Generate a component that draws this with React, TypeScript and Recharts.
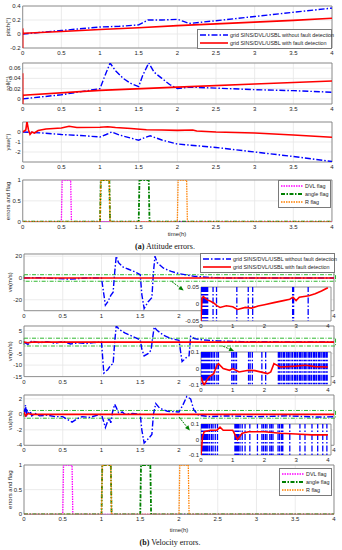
import React from "react"
import { LineChart, Line, XAxis, YAxis, CartesianGrid, ReferenceArea, ReferenceLine, Legend } from "recharts"

type Pt = [number, number]

const timeTicks = [0, 0.5, 1, 1.5, 2, 2.5, 3, 3.5, 4]
const insetTicks = [0, 1, 2, 3, 4]

// attitude errors (deg), [time h, value]
const pitchBlue: Pt[] = [[0, 0], [0.5, 0.05], [1, 0.1], [1.25, 0.11], [1.5, 0.13], [1.55, 0.16], [1.62, 0.2], [1.8, 0.2], [2, 0.21], [2.08, 0.18], [2.15, 0.15], [2.5, 0.19], [3, 0.25], [3.5, 0.31], [4, 0.37]]
const pitchRed: Pt[] = [[0, -0.2], [0, 0.08], [0.005, 0], [0.02, 0.01], [0.5, 0.035], [1, 0.065], [1.5, 0.09], [2, 0.12], [2.5, 0.145], [3, 0.17], [3.5, 0.195], [4, 0.225]]
const rollBlue: Pt[] = [[0, 0], [0.5, 0.008], [1, 0.02], [1.05, 0.04], [1.13, 0.07], [1.2, 0.055], [1.3, 0.04], [1.4, 0.03], [1.5, 0.024], [1.55, 0.045], [1.63, 0.07], [1.7, 0.052], [1.8, 0.04], [1.9, 0.028], [2, 0.02], [2.15, 0.023], [2.5, 0.021], [3, 0.018], [3.5, 0.016], [4, 0.013]]
const rollRed: Pt[] = [[0, 0.05], [0, -0.01], [0.005, 0.007], [1, 0.0165], [2, 0.023], [3, 0.029], [4, 0.035]]
const yawBlue: Pt[] = [[0, 0], [0.25, -0.1], [0.5, -0.25], [0.75, -0.35], [1, -0.5], [1.08, -0.25], [1.15, 0], [1.25, -0.3], [1.5, -0.82], [1.58, -0.55], [1.65, -0.38], [1.8, -0.8], [2, -1.2], [2.5, -1.55], [3, -2], [3.5, -2.45], [4, -2.95]]
const yawRed: Pt[] = [[0, 0], [0.04, 0.2], [0.055, 1.05], [0.075, 0.2], [0.095, -0.24], [0.12, 0], [0.15, -0.1], [0.2, 0.15], [0.3, 0.3], [0.5, 0.4], [0.6, 0.58], [0.7, 0.45], [1, 0.48], [1.1, 0.52], [1.2, 0.45], [1.4, 0.35], [1.6, 0.22], [1.8, 0.2], [2, 0.16], [2.2, 0.2], [2.25, 0.1], [2.5, 0], [3, -0.1], [3.5, -0.3], [4, -0.52]]

// fault flags
const dvlFlag: Pt[] = [[0, 0], [0.5, 0], [0.51, 1], [0.62, 1], [0.63, 0], [4, 0]]
const angleFlag: Pt[] = [[0, 0], [1, 0], [1.01, 1], [1.12, 1], [1.13, 0], [1.5, 0], [1.51, 1], [1.63, 1], [1.64, 0], [4, 0]]
const rFlag: Pt[] = [[0, 0], [1, 0], [1.01, 1], [1.12, 1], [1.13, 0], [2, 0], [2.01, 1], [2.12, 1], [2.13, 0], [4, 0]]

// velocity errors (m/s)
const veBlue: Pt[] = [[0, 0], [0.2, 0.3], [0.4, -0.5], [0.6, -1], [0.8, 0], [1, 0], [1.02, -10], [1.05, -25], [1.08, -22], [1.12, -16], [1.15, -13], [1.17, 5], [1.19, 20], [1.22, 14], [1.28, 10], [1.35, 8], [1.45, 5], [1.5, 3], [1.52, -15], [1.55, -28], [1.6, -22], [1.65, -18], [1.67, 5], [1.69, 20], [1.72, 14], [1.8, 9], [1.9, 6], [2, 4], [2.2, 1.5], [2.4, 0.5], [2.6, 0], [4, 0]]
const veRed: Pt[] = [[0, 0], [4, 0]]
const vnBlue: Pt[] = [[0, 0], [0.05, -1], [0.1, 0.5], [0.2, -0.3], [0.3, 0.2], [0.4, -0.5], [0.5, 0.3], [0.6, -0.8], [0.7, -0.3], [0.8, -0.6], [0.9, -0.2], [1, 0], [1.03, -13.5], [1.08, -12], [1.12, -10], [1.15, -9.5], [1.17, 0], [1.19, 7], [1.23, 5.5], [1.3, 4], [1.4, 2.5], [1.5, 1], [1.52, -3], [1.55, -6], [1.6, -5], [1.64, -3.5], [1.66, 2], [1.68, 6.5], [1.72, 5], [1.8, 3], [1.9, 1.5], [2, 0.8], [2.02, -4], [2.04, -8.5], [2.1, -6.5], [2.13, -6], [2.15, 2.5], [2.2, 1.5], [2.3, 1], [2.5, 0.5], [2.8, 0.2], [4, 0]]
const vnRed: Pt[] = [[0, 0], [0.05, -0.3], [0.1, 0], [4, 0]]
const vuBlue: Pt[] = [[0, 0], [0.01, 0.6], [0.02, 1.2], [0.03, -0.4], [0.04, 0.5], [0.06, 0.2], [0.08, 0.4], [0.1, -0.2], [0.15, 0.1], [0.2, -0.2], [0.3, -0.1], [0.4, -0.3], [0.5, -0.3], [0.55, -0.6], [0.62, -1], [0.68, -0.6], [0.75, -0.3], [0.85, -0.4], [0.95, -0.1], [1, 0], [1.03, -1], [1.05, -1.7], [1.08, -0.9], [1.1, -0.5], [1.12, -1.1], [1.14, 0.2], [1.17, 1.3], [1.19, 0.9], [1.22, 0.2], [1.27, 0.3], [1.3, 0], [1.4, 0.1], [1.5, 0], [1.52, -2], [1.55, -3.7], [1.6, -3.2], [1.65, -2.6], [1.67, 0], [1.7, 1.4], [1.75, 0.8], [1.85, 0.4], [2, 0.3], [2.05, 1.2], [2.1, 2.3], [2.15, 2], [2.19, 0.6], [2.25, -0.1], [2.4, -0.3], [2.6, -0.2], [3, -0.3], [3.4, -0.2], [3.8, -0.35], [4, -0.3]]
const vuRed: Pt[] = [[0, 0.3], [0.02, -0.2], [0.05, 0.1], [0.1, 0], [4, 0]]

// detection thresholds
const veLimit = 3
const vnLimit = 1.7
const vuLimit = 0.5

// zoomed insets: red curve and times where the blue curve leaves the window
const veInsetRed: Pt[] = [[0, -0.05], [0.03, 0.015], [0.07, 0.022], [0.12, 0.018], [0.2, 0.012], [0.3, 0.008], [0.4, 0.003], [0.5, -0.005], [0.6, -0.01], [0.8, -0.005], [1, -0.008], [1.15, -0.016], [1.4, -0.01], [1.6, -0.012], [1.8, -0.006], [2, -0.002], [2.3, 0.004], [2.6, 0.01], [2.8, 0.014], [2.9, 0.02], [3, 0.01], [3.1, 0.02], [3.4, 0.024], [3.6, 0.03], [3.8, 0.038], [4, 0.048]]
const veInsetBlue = [0.01, 0.03, 0.05, 0.08, 0.11, 0.14, 0.17, 0.21, 0.38, 0.49, 1.13, 1.49, 1.63, 2.89, 2.92, 3.38]
const vnInsetRed: Pt[] = [[0, -0.05], [0.05, -0.08], [0.1, -0.1], [0.18, -0.07], [0.25, -0.05], [0.4, -0.03], [0.5, 0.02], [0.55, 0.03], [0.7, 0], [0.9, -0.01], [1, 0], [1.2, -0.02], [1.5, -0.01], [1.7, -0.012], [2.1, -0.03], [2.2, -0.02], [2.3, 0.03], [2.5, 0.01], [3, 0.015], [3.3, 0.02], [3.6, 0.012], [4, 0.01]]
const vnInsetBlue = [0.01, 0.04, 0.07, 0.1, 0.13, 0.16, 0.2, 0.24, 0.28, 0.33, 0.38, 0.43, 0.5, 0.55, 0.97, 1.02, 1.07, 1.12, 1.5, 1.55, 1.62, 1.92, 2.04, 2.44, 2.48, 2.53, 2.59, 2.63, 2.69, 2.74, 2.78, 2.84, 2.89, 2.95, 2.99, 3.04, 3.1, 3.14, 3.19, 3.25, 3.29, 3.34, 3.4, 3.44, 3.49, 3.55, 3.59, 3.64, 3.7, 3.74, 3.79, 3.85, 3.89, 3.94, 3.98]
const vuInsetRed: Pt[] = [[0, -0.1], [0.05, 0.02], [0.1, 0.05], [0.3, 0.06], [0.5, 0.06], [0.6, 0.08], [0.7, 0.06], [1, 0.06], [1.1, 0.02], [1.15, 0], [1.3, 0.04], [1.5, 0.05], [2, 0.05], [2.5, 0.04], [3, 0.035], [3.5, 0.03], [4, 0.03]]
const vuInsetBlue = [0.01, 0.04, 0.07, 0.1, 0.14, 0.18, 0.22, 0.27, 0.33, 0.38, 0.45, 0.52, 1.07, 1.1, 1.14, 1.18, 1.23, 1.3, 1.39, 1.54, 1.78, 1.92, 1.97, 2.03, 2.08, 2.17, 2.22, 2.27, 2.43, 2.48, 2.54, 2.58, 2.8, 3.12, 3.28, 3.5, 3.68, 3.84, 3.97]

const BLUE = "#0000ff"
const RED = "#ff0000"
const MAG = "#ff00ff"
const DKGREEN = "#008000"
const ORANGE = "#ff8000"
const LIMIT = "#2fb82f"
const AX = "#7a7a7a"
const GRID = "#e6e6e6"
const TXT = "#262626"
const FONT = "'Liberation Sans', Arial, sans-serif"
const DASHDOT = "6 2 1.5 2"

const rows = (pts: Pt[]) => pts.map(([t, v]) => ({ t, v }))
const strokeRows = (ts: number[]) => ts.flatMap((t) => [{ t, v: 1 }, { t, v: -1 }, { t, v: null }])

interface Box {
  left: number
  top: number
  right: number
  bottom: number
}

const MT = 6
const XH = 14

const Arrow = (p: any) => {
  const { x1, y1, x2, y2 } = p
  if (x1 == null || x2 == null) return null
  const a = Math.atan2(y2 - y1, x2 - x1)
  const L = 5
  const W = 2.2
  const bx = x2 - L * Math.cos(a)
  const by = y2 - L * Math.sin(a)
  const pts = `${x2},${y2} ${bx + W * Math.sin(a)},${by - W * Math.cos(a)} ${bx - W * Math.sin(a)},${by + W * Math.cos(a)}`
  return (
    <g>
      <line x1={x1} y1={y1} x2={bx} y2={by} stroke={DKGREEN} strokeWidth={1} strokeDasharray="2 1" />
      <polygon points={pts} fill={DKGREEN} />
    </g>
  )
}

interface LegendItem {
  label: string
  color: string
  dash: string
  width: number
}

const LegendBox = ({ items, sample }: { items: LegendItem[]; sample: number }) => (
  <div style={{ background: "#fff", border: `1px solid ${AX}`, padding: "1px 2px", boxSizing: "border-box", fontFamily: FONT, fontSize: 5.4, color: TXT }}>
    {items.map((it) => (
      <div key={it.label} style={{ display: "flex", alignItems: "center", height: 8, whiteSpace: "nowrap" }}>
        <svg width={sample} height={4} style={{ flex: "none" }}>
          <line x1={0} y1={2} x2={sample} y2={2} stroke={it.color} strokeWidth={it.width} strokeDasharray={it.dash} />
        </svg>
        <span style={{ marginLeft: 2 }}>{it.label}</span>
      </div>
    ))}
  </div>
)

const fdItems: LegendItem[] = [
  { label: "grid SINS/DVL/USBL without fault detection", color: BLUE, dash: DASHDOT, width: 1.4 },
  { label: "grid SINS/DVL/USBL with fault detection", color: RED, dash: "", width: 1.6 },
]
const flagItems: LegendItem[] = [
  { label: "DVL flag", color: MAG, dash: "1.5 1", width: 1.4 },
  { label: "angle flag", color: DKGREEN, dash: "4 1.5 1.5 1.5", width: 1.8 },
  { label: "R flag", color: ORANGE, dash: "1.5 1", width: 1.4 },
]

interface PanelProps {
  box: Box
  xDomain: [number, number]
  xTicks: number[]
  yDomain: [number, number]
  yTicks: number[]
  yLabel?: string
  labelX?: number
  inset?: boolean
  legend?: { items: LegendItem[]; left: number; top: number; width: number; sample: number }
  children: React.ReactNode
}

function Panel({ box, xDomain, xTicks, yDomain, yTicks, yLabel, labelX = 8, inset, legend, children }: PanelProps) {
  const plotH = box.bottom - box.top
  const h = plotH + MT + XH
  const top = box.top - MT
  return (
    <div style={{ position: "absolute", left: 0, top }}>
      <LineChart width={342} height={h} margin={{ top: MT, right: 342 - box.right, left: 0, bottom: 0 }}>
        <CartesianGrid stroke={inset ? "none" : GRID} strokeWidth={0.8} fill={inset ? "#fff" : "none"} fillOpacity={1} />
        <XAxis
          type="number"
          dataKey="t"
          domain={xDomain}
          ticks={xTicks}
          allowDataOverflow
          height={XH}
          tickSize={0}
          tickMargin={5}
          axisLine={false}
          interval={0}
          tick={(p: any) => (
            <text x={p.x} y={p.y} dy={2} textAnchor="middle" fontSize={6} fill={TXT} fontFamily={FONT}>
              {p.payload.value}
            </text>
          )}
        />
        <YAxis
          type="number"
          domain={yDomain}
          ticks={yTicks}
          allowDataOverflow
          width={box.left}
          tickSize={0}
          tickMargin={2}
          axisLine={false}
          interval={0}
          tick={(p: any) => (
            <text x={p.x} y={p.y} dy={2} textAnchor="end" fontSize={6} fill={TXT} fontFamily={FONT}>
              {p.payload.value}
            </text>
          )}
          label={
            yLabel
              ? () => (
                  <text
                    x={labelX}
                    y={MT + plotH / 2}
                    transform={`rotate(-90 ${labelX} ${MT + plotH / 2})`}
                    textAnchor="middle"
                    dominantBaseline="central"
                    fontSize={6}
                    fill={TXT}
                    fontFamily={FONT}
                  >
                    {yLabel}
                  </text>
                )
              : undefined
          }
        />
        {children}
        <ReferenceArea x1={xDomain[0]} x2={xDomain[1]} y1={yDomain[0]} y2={yDomain[1]} fill="none" stroke={AX} strokeWidth={0.8} ifOverflow="visible" />
        {legend && (
          <Legend
            layout="horizontal"
            verticalAlign="middle"
            align="center"
            wrapperStyle={{ left: legend.left, top: legend.top - top, width: legend.width }}
            content={() => <LegendBox items={legend.items} sample={legend.sample} />}
          />
        )}
      </LineChart>
    </div>
  )
}

const blue = (pts: Pt[]) => (
  <Line data={rows(pts)} dataKey="v" type="linear" stroke={BLUE} strokeWidth={1.4} strokeDasharray={DASHDOT} dot={false} isAnimationActive={false} />
)
const red = (pts: Pt[]) => (
  <Line data={rows(pts)} dataKey="v" type="linear" stroke={RED} strokeWidth={1.6} dot={false} isAnimationActive={false} />
)
const strokes = (ts: number[]) => (
  <Line data={strokeRows(ts)} dataKey="v" type="linear" stroke={BLUE} strokeWidth={1.3} strokeDasharray={DASHDOT} dot={false} connectNulls={false} isAnimationActive={false} />
)
const flagLines = [
  <Line key="dvl" data={rows(dvlFlag)} dataKey="v" stroke={MAG} strokeWidth={1.3} strokeDasharray="1.5 1" dot={false} isAnimationActive={false} />,
  <Line key="angle" data={rows(angleFlag)} dataKey="v" stroke={DKGREEN} strokeWidth={1.8} strokeDasharray="4 1.5 1.5 1.5" dot={false} isAnimationActive={false} />,
  <Line key="r" data={rows(rFlag)} dataKey="v" stroke={ORANGE} strokeWidth={1.3} strokeDasharray="1.5 1" dot={false} isAnimationActive={false} />,
]
const limitBox = (lim: number) => (
  <ReferenceArea x1={0} x2={4.02} y1={-lim} y2={lim} fill="none" stroke={LIMIT} strokeWidth={1} strokeDasharray="4 1.5 1 1.5" ifOverflow="visible" />
)
const arrow = (from: Pt, to: Pt) => (
  <ReferenceLine segment={[{ x: from[0], y: from[1] }, { x: to[0], y: to[1] }]} shape={Arrow} ifOverflow="visible" />
)

const attX = { left: 22.7, right: 332 }
const velX = { left: 24, right: 334 }
const insX = { left: 201, right: 331 }

const Caption = ({ top, center, tag, text }: { top: number; center: number; tag: string; text: string }) => (
  <div style={{ position: "absolute", top, left: center - 60, width: 120, textAlign: "center", fontFamily: "'Liberation Serif', 'DejaVu Serif', serif", fontSize: 8, color: "#111", lineHeight: "10px" }}>
    <b>{tag}</b> {text}
  </div>
)
const TimeLabel = ({ top, center }: { top: number; center: number }) => (
  <div style={{ position: "absolute", top, left: center - 30, width: 60, textAlign: "center", fontFamily: FONT, fontSize: 6, color: TXT, lineHeight: "8px" }}>time(h)</div>
)

export default function App() {
  return (
    <div style={{ position: "relative", width: 342, height: 550, background: "#fff", overflow: "hidden" }}>
      <style>{"body{margin:0}"}</style>

      <Panel box={{ ...attX, top: 5.7, bottom: 47.7 }} xDomain={[0, 4]} xTicks={timeTicks} yDomain={[-0.2, 0.4]} yTicks={[-0.2, 0, 0.2, 0.4]} yLabel="pitch(°)"
        legend={{ items: fdItems, left: 197, top: 29, width: 135, sample: 28 }}>
        {blue(pitchBlue)}
        {red(pitchRed)}
      </Panel>
      <Panel box={{ ...attX, top: 63.3, bottom: 104.3 }} xDomain={[0, 4]} xTicks={timeTicks} yDomain={[-0.01, 0.07]} yTicks={[0, 0.02, 0.04, 0.06]} yLabel="roll(°)">
        {blue(rollBlue)}
        {red(rollRed)}
      </Panel>
      <Panel box={{ ...attX, top: 122.3, bottom: 162.3 }} xDomain={[0, 4]} xTicks={timeTicks} yDomain={[-3, 1]} yTicks={[-2, -1, 0]} yLabel="yaw(°)">
        {blue(yawBlue)}
        {red(yawRed)}
      </Panel>
      <Panel box={{ ...attX, top: 180, bottom: 221.7 }} xDomain={[0, 4]} xTicks={timeTicks} yDomain={[0, 1]} yTicks={[0, 0.5, 1]} yLabel="errors and flag"
        legend={{ items: flagItems, left: 278, top: 180, width: 53, sample: 22 }}>
        {flagLines}
      </Panel>
      <TimeLabel top={230} center={177} />
      <Caption top={242} center={165} tag="(a)" text="Attitude errors." />

      <Panel box={{ ...velX, top: 254.3, bottom: 311 }} xDomain={[0, 4]} xTicks={timeTicks} yDomain={[-30, 22]} yTicks={[-20, 0, 20]} yLabel="ve(m/s)" labelX={10}
        legend={{ items: fdItems, left: 200, top: 253, width: 135, sample: 28 }}>
        {limitBox(veLimit)}
        {blue(veBlue)}
        {red(veRed)}
        {arrow([1.91, -3.4], [2.06, -11.5])}
      </Panel>
      <Panel box={{ ...velX, top: 325.6, bottom: 376.2 }} xDomain={[0, 4]} xTicks={timeTicks} yDomain={[-15, 7]} yTicks={[-15, -10, -5, 0, 5]} yLabel="vn(m/s)" labelX={10}>
        {limitBox(vnLimit)}
        {blue(vnBlue)}
        {red(vnRed)}
        {arrow([2.57, -1.8], [2.71, -3.9])}
      </Panel>
      <Panel box={{ ...velX, top: 394.7, bottom: 445 }} xDomain={[0, 4]} xTicks={timeTicks} yDomain={[-4, 2.5]} yTicks={[-4, -2, 0, 2]} yLabel="vu(m/s)" labelX={10}>
        {limitBox(vuLimit)}
        {blue(vuBlue)}
        {red(vuRed)}
        {arrow([2.0, -0.35], [2.14, -2.1])}
      </Panel>
      <Panel box={{ ...velX, top: 465, bottom: 514.3 }} xDomain={[0, 4]} xTicks={timeTicks} yDomain={[0, 1]} yTicks={[0, 0.5, 1]} yLabel="errors and flag" labelX={10}
        legend={{ items: flagItems, left: 279, top: 468, width: 53, sample: 22 }}>
        {flagLines}
      </Panel>
      <TimeLabel top={526} center={179} />
      <Caption top={538} center={170} tag="(b)" text="Velocity errors." />

      <Panel box={{ ...insX, top: 286.7, bottom: 320.7 }} xDomain={[0, 4.1]} xTicks={insetTicks} yDomain={[-0.05, 0.05]} yTicks={[-0.05, 0, 0.05]} inset>
        {strokes(veInsetBlue)}
        {red(veInsetRed)}
      </Panel>
      <Panel box={{ ...insX, top: 351.7, bottom: 385 }} xDomain={[0, 4.1]} xTicks={insetTicks} yDomain={[-0.1, 0.1]} yTicks={[-0.1, 0, 0.1]} inset>
        {strokes(vnInsetBlue)}
        {red(vnInsetRed)}
      </Panel>
      <Panel box={{ ...insX, top: 424, bottom: 455 }} xDomain={[0, 4.1]} xTicks={insetTicks} yDomain={[-0.1, 0.1]} yTicks={[-0.1, 0, 0.1]} inset>
        {strokes(vuInsetBlue)}
        {red(vuInsetRed)}
      </Panel>
    </div>
  )
}
